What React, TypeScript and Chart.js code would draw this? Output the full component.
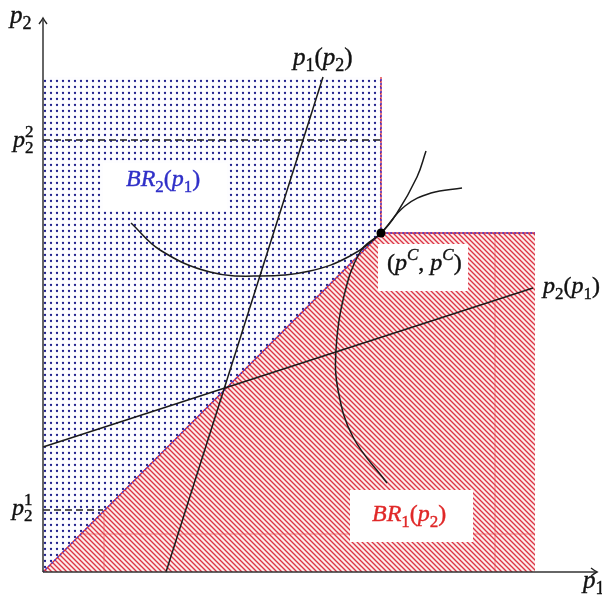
import React, { useEffect, useRef } from "react";
import { Chart, registerables } from "chart.js";
Chart.register(...registerables);

type P = { x: number; y: number };

// ---- data (p1 horizontal, p2 vertical) ----
const blueRegion: P[] = [
  { x: 0, y: 0 }, { x: 0, y: 495 }, { x: 338, y: 495 }, { x: 338, y: 339 }, { x: 0, y: 0 },
];
const redRegion: P[] = [
  { x: 0, y: 0 }, { x: 338, y: 339 }, { x: 492, y: 339 }, { x: 492, y: 0 }, { x: 0, y: 0 },
];
const borderDiagTop: P[] = [{ x: 0, y: 0 }, { x: 338, y: 339 }, { x: 492, y: 339 }];
const borderBlueRight: P[] = [{ x: 338, y: 339 }, { x: 338, y: 495 }];
const seamA: P[] = [{ x: 61, y: 0 }, { x: 61, y: 61 }];
const seamB: P[] = [{ x: 452, y: 0 }, { x: 452, y: 339 }];
const seamC: P[] = [{ x: 38, y: 38 }, { x: 492, y: 38 }];
const p2SquaredLevel: P[] = [{ x: 0, y: 432 }, { x: 338, y: 432 }];
const p2OneLevel: P[] = [{ x: 0, y: 62 }, { x: 60, y: 62 }];
const reaction1: P[] = [{ x: 123, y: 0 }, { x: 280, y: 495 }];
const reaction2: P[] = [{ x: 0, y: 125 }, { x: 490, y: 284 }];
const isoProfit2: P[] = [
  { x: 88, y: 349 }, { x: 117, y: 322 }, { x: 167, y: 300 }, { x: 217, y: 296 },
  { x: 267, y: 301 }, { x: 307, y: 316 }, { x: 338, y: 339 }, { x: 354, y: 359 },
  { x: 374, y: 395 }, { x: 383, y: 421 },
];
const isoProfit1: P[] = [
  { x: 344, y: 89 }, { x: 310, y: 135 }, { x: 295, y: 182 }, { x: 293, y: 222 },
  { x: 300, y: 272 }, { x: 317, y: 320 }, { x: 338, y: 339 }, { x: 362, y: 366 },
  { x: 388, y: 379 }, { x: 419, y: 384 },
];
const collusion: P[] = [{ x: 338, y: 339 }];
const xAxisLine: P[] = [{ x: 0, y: 0 }, { x: 552, y: 0 }];
const yAxisLine: P[] = [{ x: 0, y: 0 }, { x: 0, y: 552 }];

type Seg = [string, string, boolean?];
const FONT = '"Liberation Serif"';

function rich(ctx: CanvasRenderingContext2D, x: number, y: number, segs: Seg[], size: number, color: string) {
  let cx = x;
  ctx.fillStyle = color;
  ctx.strokeStyle = color;
  ctx.lineWidth = 0.4;
  ctx.textBaseline = "alphabetic";
  ctx.textAlign = "left";
  for (const [t, k, stay] of segs) {
    let font = `italic ${size}px ${FONT}`;
    let dy = 0;
    const small = Math.round(size * 0.7);
    if (k === "r") font = `${size}px ${FONT}`;
    else if (k === "sub") { font = `${small}px ${FONT}`; dy = size * 0.24; }
    else if (k === "sup") { font = `${small}px ${FONT}`; dy = -size * 0.42; }
    else if (k === "isup") { font = `italic ${small}px ${FONT}`; dy = -size * 0.42; }
    ctx.font = font;
    ctx.fillText(t, cx, y + dy);
    ctx.strokeText(t, cx, y + dy);
    if (!stay) cx += ctx.measureText(t).width;
  }
}

type Label = { x: number; y: number; segs: Seg[]; size: number; color: string; box?: [number, number, number, number] };
const labels: Label[] = [
  { x: -33, y: 549, segs: [["p", "i"], ["2", "sub"]], size: 25, color: "#111" },
  { x: -30, y: 425, segs: [["p", "i"], ["2", "sup", true], ["2", "sub"]], size: 24, color: "#111" },
  { x: -31, y: 57, segs: [["p", "i"], ["1", "sup", true], ["2", "sub"]], size: 24, color: "#111" },
  { x: 540, y: -16, segs: [["p", "i"], ["1", "sub"]], size: 25, color: "#111" },
  { x: 250, y: 507, segs: [["p", "i"], ["1", "sub"], ["(", "r"], ["p", "i"], ["2", "sub"], [")", "r"]], size: 25, color: "#111" },
  { x: 500, y: 279, segs: [["p", "i"], ["2", "sub"], ["(", "r"], ["p", "i"], ["1", "sub"], [")", "r"]], size: 24, color: "#111" },
  {
    x: 83, y: 386, segs: [["BR", "i"], ["2", "sub"], ["(", "r"], ["p", "i"], ["1", "sub"], [")", "r"]], size: 24, color: "#3030c8",
    box: [60, 409, 184, 361],
  },
  {
    x: 344, y: 302, segs: [["(", "r"], ["p", "i"], ["C", "isup"], [",", "r"], [" ", "r"], ["p", "i"], ["C", "isup"], [")", "r"]], size: 24, color: "#111",
    box: [335, 328, 425, 281],
  },
  {
    x: 329, y: 51, segs: [["BR", "i"], ["1", "sub"], ["(", "r"], ["p", "i"], ["2", "sub"], [")", "r"]], size: 24, color: "#e02828",
    box: [307, 82, 430, 30],
  },
];

const labelPlugin = {
  id: "labels",
  afterDatasetsDraw(chart: any) {
    const ctx: CanvasRenderingContext2D = chart.ctx;
    const xs = chart.scales.x, ys = chart.scales.y;
    ctx.save();
    for (const l of labels) {
      if (l.box) {
        const [x0, y0, x1, y1] = l.box;
        const a = xs.getPixelForValue(x0), b = ys.getPixelForValue(y0);
        const c = xs.getPixelForValue(x1), d = ys.getPixelForValue(y1);
        ctx.fillStyle = "#ffffff";
        ctx.fillRect(a, b, c - a, d - b);
      }
    }
    for (const l of labels) {
      rich(ctx, xs.getPixelForValue(l.x), ys.getPixelForValue(l.y), l.segs, l.size, l.color);
    }
    // arrowheads
    const ox = xs.getPixelForValue(0), oy = ys.getPixelForValue(0);
    const tx = xs.getPixelForValue(554), ty = ys.getPixelForValue(554);
    ctx.strokeStyle = "#222";
    ctx.lineWidth = 1.4;
    ctx.beginPath();
    ctx.moveTo(tx - 6, oy - 4); ctx.quadraticCurveTo(tx - 2, oy - 1, tx, oy); ctx.quadraticCurveTo(tx - 2, oy + 1, tx - 6, oy + 4);
    ctx.moveTo(ox - 4, ty + 6); ctx.quadraticCurveTo(ox - 1, ty + 2, ox, ty); ctx.quadraticCurveTo(ox + 1, ty + 2, ox + 4, ty + 6);
    ctx.stroke();
    ctx.restore();
  },
};

function makeDots(ctx: CanvasRenderingContext2D) {
  const c = document.createElement("canvas");
  c.width = 6; c.height = 6;
  const g = c.getContext("2d")!;
  g.fillStyle = "#fdfdff";
  g.fillRect(0, 0, 6, 6);
  g.fillStyle = "#1f1f8c";
  g.beginPath();
  g.arc(3, 3, 1.15, 0, Math.PI * 2);
  g.fill();
  return ctx.createPattern(c, "repeat")!;
}

function makeHatch(ctx: CanvasRenderingContext2D) {
  const s = 5;
  const c = document.createElement("canvas");
  c.width = s; c.height = s;
  const g = c.getContext("2d")!;
  g.fillStyle = "#fdecec";
  g.fillRect(0, 0, s, s);
  g.strokeStyle = "#dc3444";
  g.lineWidth = 1.35;
  g.beginPath();
  g.moveTo(-1, -1); g.lineTo(s + 1, s + 1);
  g.moveTo(-1, s - 1); g.lineTo(1, s + 1);
  g.moveTo(s - 1, -1); g.lineTo(s + 1, 1);
  g.stroke();
  return ctx.createPattern(c, "repeat")!;
}

function line(data: P[], color: string, width: number, order: number, extra: any = {}) {
  return {
    data, showLine: true, borderColor: color, borderWidth: width, pointRadius: 0,
    fill: false, tension: 0, order, ...extra,
  };
}

export default function App() {
  const ref = useRef<HTMLCanvasElement>(null);
  useEffect(() => {
    const canvas = ref.current!;
    const ctx = canvas.getContext("2d")!;
    const dots = makeDots(ctx);
    const hatch = makeHatch(ctx);
    const chart = new Chart(canvas, {
      type: "scatter",
      data: {
        datasets: [
          line(collusion, "#000", 0, 1, { showLine: false, pointRadius: 4.5, backgroundColor: "#000" }),
          line(xAxisLine, "#333", 1.5, 2),
          line(yAxisLine, "#333", 1.5, 2),
          line(isoProfit2, "#1a1a1a", 1.5, 4, { tension: 0.4 }),
          line(isoProfit1, "#1a1a1a", 1.5, 4, { tension: 0.4 }),
          line(reaction1, "#1a1a1a", 1.5, 5),
          line(reaction2, "#1a1a1a", 1.5, 5),
          line(p2SquaredLevel, "#222", 1.3, 6, { borderDash: [7, 4] }),
          line(p2OneLevel, "#222", 1.3, 6, { borderDash: [7, 4] }),
          line(borderDiagTop, "#3a3ae0", 1.3, 7, { borderDash: [2, 2] }),
          line(borderBlueRight, "#3a3ae0", 1.3, 7, { borderDash: [2, 2] }),
          line(borderDiagTop, "#e03030", 1.3, 8),
          line(borderBlueRight, "#e03030", 1.3, 8),
          line(seamA, "rgba(235,70,70,0.55)", 1, 9),
          line(seamB, "rgba(235,70,70,0.55)", 1, 9),
          line(seamC, "rgba(235,70,70,0.55)", 1, 9),
          line(redRegion, "rgba(0,0,0,0)", 0, 10, { fill: "shape", backgroundColor: hatch }),
          line(blueRegion, "rgba(0,0,0,0)", 0, 11, { fill: "shape", backgroundColor: dots }),
        ] as any,
      },
      options: {
        responsive: false,
        animation: false,
        devicePixelRatio: 1,
        layout: { padding: 0, autoPadding: false },
        plugins: { legend: { display: false }, tooltip: { enabled: false } },
        scales: {
          x: { type: "linear", min: -43, max: 559, display: false },
          y: { type: "linear", min: -28, max: 572, display: false },
        },
      } as any,
      plugins: [labelPlugin],
    });
    return () => chart.destroy();
  }, []);
  return (
    <div style={{ position: "absolute", left: 0, top: 0, width: 602, height: 600, background: "#fff" }}>
      <canvas ref={ref} width={602} height={600} style={{ width: 602, height: 600, display: "block" }} />
    </div>
  );
}
